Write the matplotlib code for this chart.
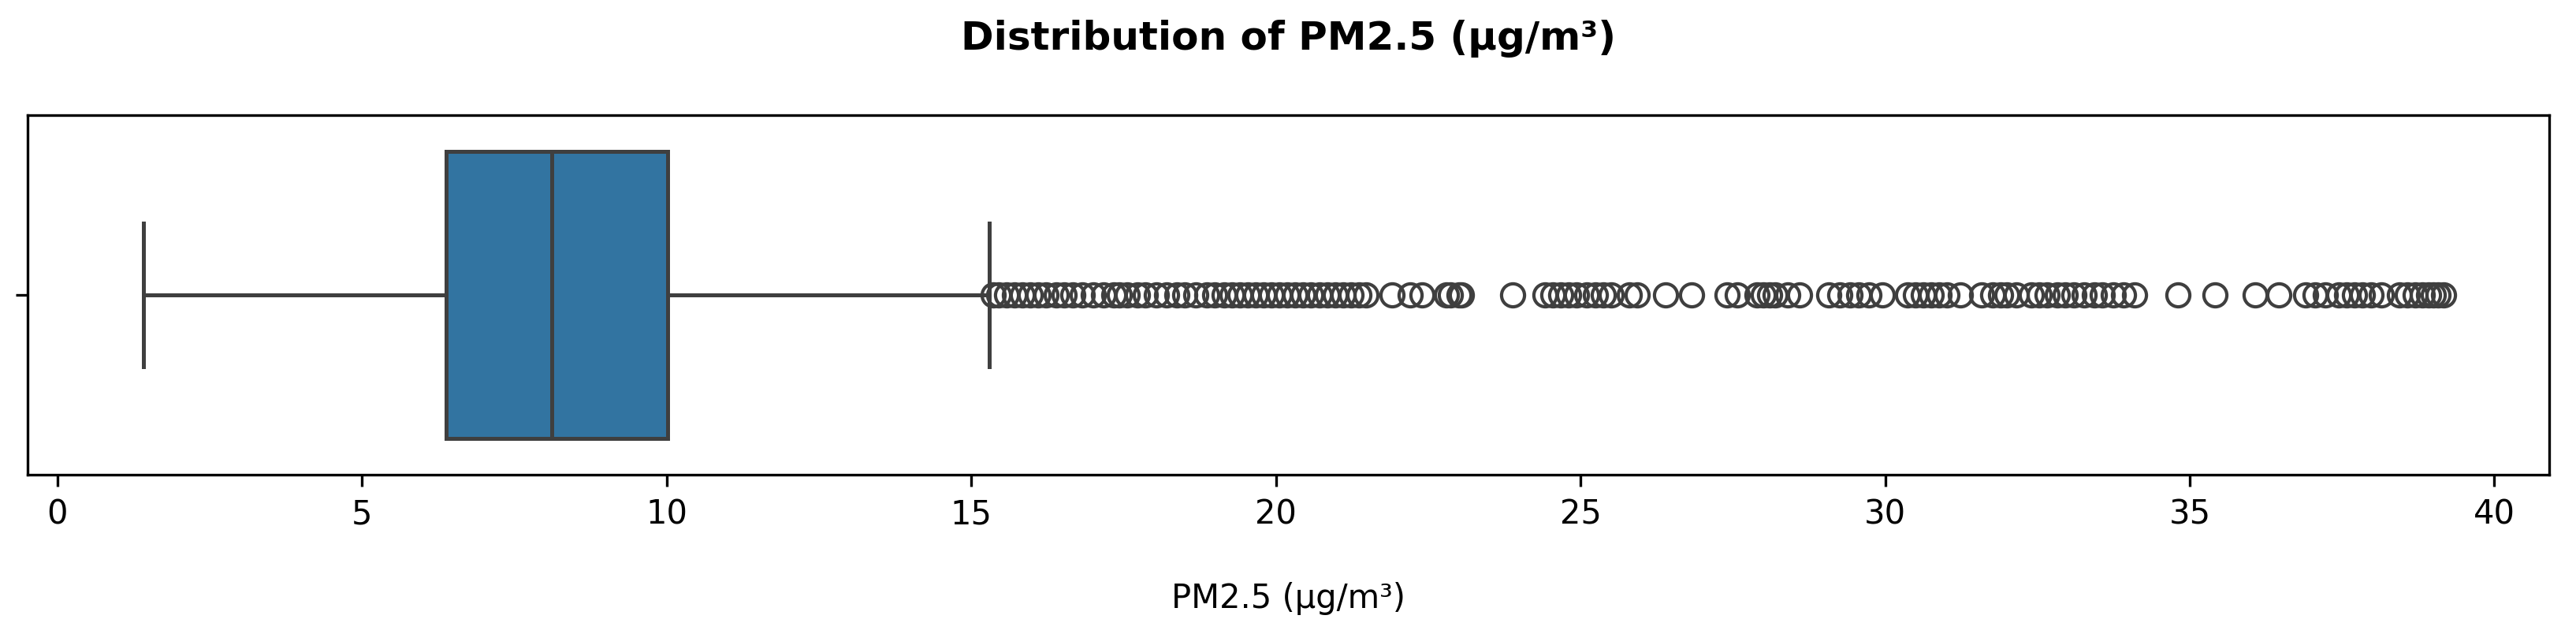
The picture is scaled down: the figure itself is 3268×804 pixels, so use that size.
import matplotlib
matplotlib.use("Agg")
import matplotlib.pyplot as plt

# box summary
q1 = 6.38
median = 8.11
q3 = 10.01
whisker_low = 1.41
whisker_high = 15.30

# outliers above the upper whisker, read left to right
fliers = [
    15.36, 15.45, 15.58, 15.71, 15.84, 15.97, 16.10, 16.23, 16.40, 16.53,
    16.66, 16.82, 17.00, 17.17, 17.34, 17.43, 17.56, 17.73, 17.86, 18.04,
    18.21, 18.38, 18.51, 18.69, 18.86, 18.99, 19.15, 19.28, 19.41, 19.54,
    19.67, 19.80, 19.93, 20.06, 20.19, 20.32, 20.45, 20.58, 20.71, 20.84,
    20.97, 21.10, 21.23, 21.36, 21.48, 21.90, 22.20, 22.40, 22.80, 22.87,
    23.00, 23.04,
    23.88, 24.42, 24.55, 24.68, 24.81, 24.94, 25.10, 25.24, 25.37, 25.50,
    25.80, 25.93, 26.39, 26.82, 27.40, 27.57, 27.90, 28.00, 28.10, 28.20,
    28.40, 28.60, 29.08, 29.25, 29.43, 29.56, 29.73, 29.95, 30.37, 30.50,
    30.63, 30.76, 30.89, 31.02, 31.24, 31.58, 31.76, 31.89, 32.00, 32.15,
    32.40, 32.53, 32.66, 32.83, 32.96, 33.10, 33.26, 33.44, 33.57, 33.74,
    33.91, 34.09, 34.80, 35.42, 36.07, 36.46, 36.90, 37.06, 37.23, 37.45,
    37.58, 37.71, 37.84, 37.97, 38.14, 38.44, 38.57, 38.70, 38.82, 38.92,
    39.00, 39.08, 39.17,
]

title = "Distribution of PM2.5 (µg/m³)"
xlabel = "PM2.5 (µg/m³)"
xticks = [0, 5, 10, 15, 20, 25, 30, 35, 40]

box_color = "#3274a1"
line_color = "#3f3f3f"

fig = plt.figure(figsize=(3268 / 300, 804 / 300), dpi=300)
ax = fig.add_axes([35 / 3268, 1 - 602 / 804, (3234 - 35) / 3268, (602 - 146) / 804])

stats = [{
    "q1": q1, "med": median, "q3": q3,
    "whislo": whisker_low, "whishi": whisker_high,
    "fliers": fliers, "label": "",
}]
lw = 1.2
ax.bxp(
    stats, positions=[0], widths=0.8, orientation="horizontal",
    patch_artist=True, showfliers=True,
    boxprops=dict(facecolor=box_color, edgecolor=line_color, linewidth=lw),
    medianprops=dict(color=line_color, linewidth=lw),
    whiskerprops=dict(color=line_color, linewidth=lw),
    capprops=dict(color=line_color, linewidth=lw),
    capwidths=0.4,
    flierprops=dict(marker="o", markerfacecolor="none", markeredgecolor=line_color,
                    markersize=7, markeredgewidth=1.0),
)

ax.set_xlim(-0.49, 40.9)
ax.set_ylim(0.5, -0.5)
ax.set_xticks(xticks)
ax.set_xticklabels([str(t) for t in xticks])
ax.set_yticks([0])
ax.set_yticklabels([""])
ax.tick_params(labelsize=10)
ax.set_xlabel(xlabel, fontsize=10, labelpad=15.5)
ax.set_title(title, fontsize=12, fontweight="bold", pad=20)

fig.savefig("out.png", dpi=300)
